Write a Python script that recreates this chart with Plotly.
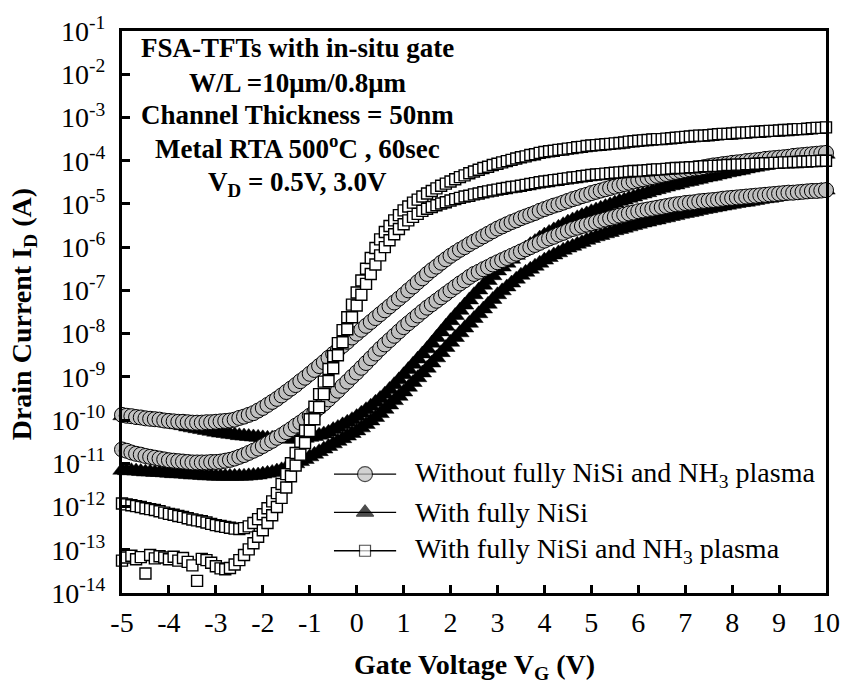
import plotly.graph_objects as go

# Gate-voltage sweep: -5 V to 10 V in 0.1 V steps
VG_START, VG_STEP, N_PTS = -5.0, 0.1, 151
vg = [round(VG_START + VG_STEP * i, 1) for i in range(N_PTS)]

# log10 of drain current (A), one list per device / drain bias
log_id_circle_vd30 = [
    -9.88, -9.90, -9.91, -9.93, -9.94, -9.96, -9.97, -9.98, -9.99, -10.01,
    -10.02, -10.03, -10.04, -10.04, -10.05, -10.06, -10.06, -10.06, -10.05, -10.05,
    -10.04, -10.03, -10.02, -10.01, -9.99, -9.95, -9.92, -9.88, -9.84, -9.78,
    -9.72, -9.65, -9.58, -9.51, -9.43, -9.35, -9.27, -9.19, -9.10, -9.02,
    -8.93, -8.84, -8.75, -8.66, -8.56, -8.47, -8.38, -8.28, -8.19, -8.09,
    -8.00, -7.91, -7.82, -7.73, -7.64, -7.55, -7.46, -7.37, -7.28, -7.19,
    -7.10, -7.00, -6.91, -6.81, -6.72, -6.62, -6.53, -6.45, -6.36, -6.28,
    -6.20, -6.13, -6.06, -6.00, -5.93, -5.87, -5.81, -5.75, -5.69, -5.63,
    -5.57, -5.52, -5.47, -5.42, -5.38, -5.33, -5.29, -5.25, -5.21, -5.16,
    -5.12, -5.08, -5.04, -5.01, -4.97, -4.93, -4.89, -4.86, -4.82, -4.79,
    -4.75, -4.72, -4.69, -4.66, -4.63, -4.60, -4.57, -4.54, -4.51, -4.48,
    -4.45, -4.43, -4.40, -4.38, -4.35, -4.33, -4.31, -4.28, -4.26, -4.24,
    -4.22, -4.20, -4.18, -4.17, -4.15, -4.13, -4.11, -4.10, -4.08, -4.07,
    -4.05, -4.04, -4.03, -4.01, -4.00, -3.99, -3.98, -3.96, -3.95, -3.94,
    -3.93, -3.92, -3.91, -3.89, -3.88, -3.87, -3.86, -3.85, -3.84, -3.83,
    -3.82,
]
log_id_circle_vd05 = [
    -10.68, -10.71, -10.75, -10.78, -10.80, -10.83, -10.85, -10.87, -10.89, -10.91,
    -10.93, -10.94, -10.95, -10.96, -10.97, -10.98, -10.98, -10.98, -10.98, -10.97,
    -10.97, -10.96, -10.94, -10.92, -10.89, -10.85, -10.81, -10.76, -10.71, -10.66,
    -10.60, -10.54, -10.48, -10.41, -10.35, -10.28, -10.21, -10.13, -10.06, -9.98,
    -9.90, -9.81, -9.71, -9.62, -9.52, -9.42, -9.32, -9.21, -9.11, -9.00,
    -8.90, -8.79, -8.68, -8.57, -8.46, -8.35, -8.25, -8.15, -8.05, -7.95,
    -7.85, -7.76, -7.67, -7.58, -7.49, -7.40, -7.32, -7.24, -7.16, -7.08,
    -7.00, -6.92, -6.84, -6.77, -6.69, -6.62, -6.57, -6.51, -6.46, -6.40,
    -6.35, -6.30, -6.25, -6.20, -6.15, -6.10, -6.05, -6.00, -5.95, -5.90,
    -5.85, -5.80, -5.76, -5.71, -5.67, -5.62, -5.58, -5.55, -5.51, -5.48,
    -5.45, -5.42, -5.39, -5.36, -5.33, -5.30, -5.27, -5.25, -5.22, -5.20,
    -5.17, -5.15, -5.13, -5.11, -5.09, -5.07, -5.05, -5.03, -5.01, -5.00,
    -4.98, -4.97, -4.96, -4.94, -4.93, -4.92, -4.91, -4.90, -4.88, -4.87,
    -4.86, -4.85, -4.84, -4.83, -4.82, -4.81, -4.80, -4.79, -4.78, -4.77,
    -4.76, -4.75, -4.74, -4.74, -4.73, -4.72, -4.71, -4.70, -4.70, -4.69,
    -4.68,
]
log_id_tri_vd30 = [
    -9.90, -9.91, -9.93, -9.94, -9.96, -9.98, -9.99, -10.01, -10.03, -10.05,
    -10.07, -10.09, -10.11, -10.13, -10.16, -10.18, -10.20, -10.22, -10.24, -10.26,
    -10.28, -10.30, -10.31, -10.33, -10.34, -10.36, -10.37, -10.38, -10.39, -10.40,
    -10.41, -10.42, -10.42, -10.43, -10.43, -10.44, -10.44, -10.44, -10.43, -10.42,
    -10.40, -10.38, -10.35, -10.32, -10.28, -10.22, -10.17, -10.11, -10.05, -9.99,
    -9.92, -9.84, -9.76, -9.68, -9.59, -9.50, -9.40, -9.29, -9.18, -9.07,
    -8.95, -8.83, -8.71, -8.59, -8.47, -8.35, -8.22, -8.09, -7.96, -7.83,
    -7.70, -7.58, -7.46, -7.34, -7.22, -7.10, -6.99, -6.88, -6.77, -6.66,
    -6.55, -6.46, -6.37, -6.28, -6.19, -6.10, -6.02, -5.94, -5.87, -5.79,
    -5.72, -5.66, -5.60, -5.54, -5.48, -5.42, -5.37, -5.32, -5.27, -5.23,
    -5.18, -5.14, -5.10, -5.06, -5.02, -4.98, -4.94, -4.91, -4.87, -4.84,
    -4.80, -4.77, -4.74, -4.70, -4.67, -4.64, -4.61, -4.58, -4.56, -4.53,
    -4.50, -4.48, -4.45, -4.43, -4.40, -4.38, -4.36, -4.33, -4.31, -4.28,
    -4.26, -4.24, -4.22, -4.19, -4.17, -4.15, -4.13, -4.11, -4.08, -4.06,
    -4.04, -4.02, -4.00, -3.98, -3.96, -3.94, -3.92, -3.90, -3.89, -3.87,
    -3.85,
]
log_id_tri_vd05 = [
    -11.16, -11.17, -11.17, -11.18, -11.19, -11.20, -11.20, -11.21, -11.21, -11.22,
    -11.23, -11.24, -11.24, -11.25, -11.26, -11.27, -11.27, -11.28, -11.29, -11.29,
    -11.30, -11.30, -11.30, -11.30, -11.30, -11.30, -11.30, -11.29, -11.28, -11.27,
    -11.25, -11.23, -11.21, -11.18, -11.15, -11.10, -11.06, -11.01, -10.96, -10.91,
    -10.85, -10.79, -10.73, -10.67, -10.61, -10.55, -10.49, -10.43, -10.37, -10.31,
    -10.25, -10.18, -10.10, -10.02, -9.94, -9.85, -9.75, -9.65, -9.55, -9.45,
    -9.35, -9.24, -9.13, -9.02, -8.91, -8.80, -8.68, -8.56, -8.44, -8.32,
    -8.20, -8.09, -7.98, -7.87, -7.76, -7.65, -7.54, -7.43, -7.32, -7.21,
    -7.10, -7.01, -6.92, -6.83, -6.74, -6.65, -6.58, -6.51, -6.44, -6.37,
    -6.30, -6.24, -6.18, -6.13, -6.07, -6.02, -5.98, -5.93, -5.89, -5.84,
    -5.80, -5.76, -5.73, -5.69, -5.66, -5.62, -5.59, -5.56, -5.53, -5.50,
    -5.47, -5.44, -5.42, -5.39, -5.37, -5.34, -5.32, -5.29, -5.27, -5.24,
    -5.22, -5.20, -5.18, -5.15, -5.13, -5.11, -5.09, -5.07, -5.05, -5.03,
    -5.01, -4.99, -4.97, -4.96, -4.94, -4.92, -4.90, -4.88, -4.87, -4.85,
    -4.83, -4.81, -4.80, -4.78, -4.77, -4.75, -4.74, -4.72, -4.71, -4.69,
    -4.68,
]
log_id_sq_vd30 = [
    -11.93, -11.95, -11.97, -11.99, -12.01, -12.04, -12.06, -12.08, -12.11, -12.14,
    -12.17, -12.19, -12.22, -12.24, -12.27, -12.30, -12.32, -12.34, -12.37, -12.40,
    -12.43, -12.45, -12.47, -12.49, -12.51, -12.52, -12.50, -12.46, -12.38, -12.29,
    -12.18, -12.04, -11.88, -11.69, -11.48, -11.25, -11.00, -10.76, -10.50, -10.24,
    -9.98, -9.69, -9.40, -9.11, -8.82, -8.52, -8.22, -7.92, -7.62, -7.33,
    -7.05, -6.77, -6.50, -6.25, -6.02, -5.82, -5.65, -5.51, -5.38, -5.26,
    -5.15, -5.06, -4.97, -4.90, -4.83, -4.76, -4.70, -4.64, -4.58, -4.53,
    -4.48, -4.43, -4.38, -4.34, -4.29, -4.25, -4.21, -4.17, -4.14, -4.10,
    -4.07, -4.04, -4.01, -3.98, -3.95, -3.92, -3.90, -3.87, -3.85, -3.82,
    -3.80, -3.78, -3.77, -3.75, -3.74, -3.72, -3.71, -3.69, -3.68, -3.66,
    -3.65, -3.64, -3.63, -3.62, -3.61, -3.60, -3.59, -3.58, -3.56, -3.55,
    -3.54, -3.53, -3.52, -3.51, -3.50, -3.50, -3.49, -3.48, -3.47, -3.46,
    -3.45, -3.44, -3.43, -3.42, -3.42, -3.41, -3.40, -3.39, -3.38, -3.38,
    -3.37, -3.36, -3.35, -3.35, -3.34, -3.33, -3.33, -3.32, -3.31, -3.31,
    -3.30, -3.29, -3.29, -3.28, -3.27, -3.27, -3.26, -3.25, -3.24, -3.24,
    -3.23,
]
log_id_sq_vd05 = [
    -13.25, -13.18, -13.14, -13.22, -13.17, -13.55, -13.12, -13.20, -13.15, -13.18,
    -13.22, -13.16, -13.25, -13.19, -13.28, -13.36, -13.72, -13.21, -13.24, -13.30,
    -13.38, -13.43, -13.45, -13.42, -13.34, -13.24, -13.12, -12.99, -12.85, -12.70,
    -12.55, -12.38, -12.20, -12.01, -11.80, -11.56, -11.30, -11.05, -10.80, -10.53,
    -10.25, -9.98, -9.70, -9.40, -9.10, -8.80, -8.50, -8.20, -7.90, -7.62,
    -7.35, -7.10, -6.85, -6.62, -6.40, -6.19, -6.00, -5.84, -5.70, -5.58,
    -5.47, -5.38, -5.30, -5.23, -5.16, -5.11, -5.07, -5.03, -4.99, -4.96,
    -4.92, -4.89, -4.86, -4.83, -4.81, -4.78, -4.76, -4.73, -4.71, -4.69,
    -4.67, -4.65, -4.63, -4.61, -4.60, -4.58, -4.56, -4.54, -4.52, -4.50,
    -4.48, -4.47, -4.45, -4.44, -4.42, -4.41, -4.39, -4.38, -4.36, -4.35,
    -4.33, -4.32, -4.31, -4.30, -4.29, -4.28, -4.27, -4.26, -4.25, -4.24,
    -4.24, -4.23, -4.22, -4.21, -4.20, -4.20, -4.19, -4.18, -4.17, -4.17,
    -4.16, -4.15, -4.15, -4.14, -4.13, -4.13, -4.12, -4.12, -4.11, -4.10,
    -4.10, -4.09, -4.09, -4.08, -4.08, -4.07, -4.07, -4.06, -4.06, -4.05,
    -4.05, -4.04, -4.04, -4.03, -4.03, -4.02, -4.02, -4.01, -4.01, -4.00,
    -4.00,
]

legend_labels = [
    "Without fully NiSi and NH<sub>3</sub> plasma",
    "With fully NiSi",
    "With fully NiSi and NH<sub>3</sub> plasma",
]
note_lines = [
    "<b>FSA-TFTs with in-situ gate</b>",
    "<b>W/L =10μm/0.8μm</b>",
    "<b>Channel Thickness = 50nm</b>",
    "<b>Metal RTA 500<sup>o</sup>C , 60sec</b>",
    "<b>V<sub>D</sub> = 0.5V, 3.0V</b>",
]
y_exponents = list(range(-14, 0))
x_ticks = list(range(-5, 11))

FONT = "Liberation Serif"
CIRCLE = dict(symbol="circle", size=15, color="#c0c0c0", line=dict(color="black", width=1))
TRIANGLE = dict(symbol="triangle-up", size=16, color="black", line=dict(color="black", width=0.5))
SQUARE = dict(symbol="square", size=11, color="white", line=dict(color="black", width=1.4))


def amps(logs):
    return [10 ** v for v in logs]


fig = go.Figure()
for logs, mk in [
    (log_id_tri_vd30, TRIANGLE),
    (log_id_tri_vd05, TRIANGLE),
    (log_id_circle_vd30, CIRCLE),
    (log_id_circle_vd05, CIRCLE),
    (log_id_sq_vd30, SQUARE),
    (log_id_sq_vd05, SQUARE),
]:
    fig.add_trace(go.Scatter(x=vg, y=amps(logs), mode="markers", marker=mk,
                             cliponaxis=False, showlegend=False, hoverinfo="skip"))

# Hand-built legend: long line with centred symbol, text to the right
leg_rows = [0.2115, 0.1434, 0.0752]
leg_line = (0.3011, 0.3894)
leg_mark_x = 0.3452
leg_text_x = 0.4132
fig.add_trace(go.Scatter(
    x=[leg_mark_x] * 3, y=leg_rows, xaxis="x2", yaxis="y2", mode="markers",
    marker=dict(symbol=["circle", "triangle-up", "square"], size=[15, 15, 11],
                color=["#c0c0c0", "black", "white"],
                line=dict(color="black", width=1.2)),
    cliponaxis=False, showlegend=False, hoverinfo="skip"))

shapes = []
annotations = []
for row_y, label in zip(leg_rows, legend_labels):
    shapes.append(dict(type="line", xref="paper", yref="paper",
                       x0=leg_line[0], x1=leg_line[1], y0=row_y, y1=row_y,
                       line=dict(color="black", width=1.3), layer="below"))
    annotations.append(dict(xref="paper", yref="paper", x=leg_text_x, y=row_y,
                            text=label, showarrow=False, xanchor="left", yanchor="middle",
                            font=dict(family=FONT, size=28, color="black")))

# Condition notes, stacked and centred in the upper-left corner
note_y = [0.969, 0.908, 0.850, 0.7935, 0.7285]
for ny, line in zip(note_y, note_lines):
    annotations.append(dict(xref="paper", yref="paper", x=0.2493, y=ny, text=line,
                            showarrow=False, xanchor="center", yanchor="middle",
                            font=dict(family=FONT, size=27, color="black")))

annotations.append(dict(xref="paper", yref="paper", x=0.5, y=-0.131,
                        text="<b>Gate Voltage V<sub>G</sub> (V)</b>", showarrow=False,
                        xanchor="center", yanchor="middle",
                        font=dict(family=FONT, size=28, color="black")))
annotations.append(dict(xref="paper", yref="paper", x=-0.1387, y=0.4965,
                        text="<b>Drain Current I<sub>D</sub> (A)</b>", showarrow=False,
                        textangle=-90, xanchor="center", yanchor="middle",
                        font=dict(family=FONT, size=28, color="black")))

fig.update_layout(
    width=852, height=692,
    margin=dict(l=122, r=16, t=21, b=99),
    paper_bgcolor="white", plot_bgcolor="white",
    font=dict(family=FONT, size=28, color="black"),
    xaxis=dict(range=[-5, 10], tickvals=x_ticks, ticktext=[str(v) for v in x_ticks],
               ticks="inside", ticklen=8, tickwidth=2.5, tickcolor="black",
               showline=True, linewidth=3, linecolor="black", mirror=True,
               showgrid=False, zeroline=False, ticklabelstandoff=2,
               tickfont=dict(family=FONT, size=28)),
    yaxis=dict(type="log", range=[-14, -1],
               tickvals=[10 ** e for e in y_exponents] + [1e-1],
               ticktext=["10<sup>%d</sup>" % e for e in y_exponents] + ["10<sup>-1</sup>"],
               ticks="inside", ticklen=8, tickwidth=2.5, tickcolor="black",
               showline=True, linewidth=3, linecolor="black", mirror=True,
               showgrid=False, zeroline=False, ticklabelstandoff=8,
               tickfont=dict(family=FONT, size=28)),
    xaxis2=dict(overlaying="x", range=[0, 1], visible=False),
    yaxis2=dict(overlaying="y", range=[0, 1], visible=False),
    shapes=shapes,
    annotations=annotations,
)

fig.write_html("out.html")
